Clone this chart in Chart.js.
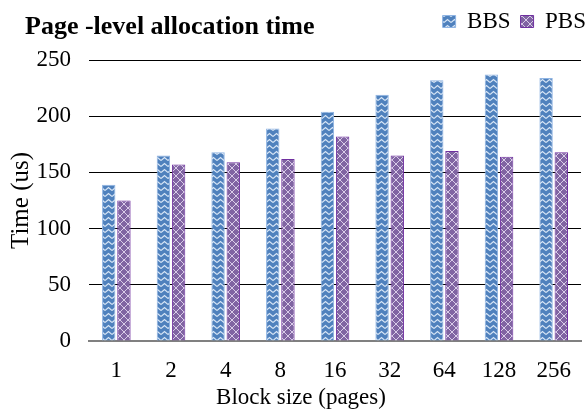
<!DOCTYPE html>
<html lang="en">
<head>
  <meta charset="UTF-8">
  <title>Page-level allocation time</title>
  <style>
    body { margin: 0; background: #fff; }
    #wrap { width: 587px; height: 411px; }
  </style>
</head>
<body>
  <div id="wrap"><canvas id="myChart" width="587" height="411"></canvas></div>

  <script src="https://cdn.jsdelivr.net/npm/chart.js"></script>
  <script>
    // data
    const blockSizes = ['1', '2', '4', '8', '16', '32', '64', '128', '256'];
    const bbsTimes = [139, 165, 168, 189, 204, 219, 232, 237, 234];
    const pbsTimes = [125, 157, 159, 162, 182, 165, 169, 164, 168];
    const yTicks = [0, 50, 100, 150, 200, 250];

    const serif = "'Liberation Serif', 'Times New Roman', serif";

    // chevron fill for BBS
    function chevronPattern() {
      const c = document.createElement('canvas');
      c.width = 7; c.height = 6;
      const g = c.getContext('2d');
      g.fillStyle = '#4f81bd';
      g.fillRect(0, 0, 7, 6);
      g.strokeStyle = '#d6e4f5';
      g.lineWidth = 1.2;
      g.beginPath();
      g.moveTo(0, 4.5); g.lineTo(3.5, 1.5); g.lineTo(7, 4.5);
      g.stroke();
      return g.createPattern(c, 'repeat');
    }

    // diamond cross fill for PBS
    function crossPattern() {
      const c = document.createElement('canvas');
      c.width = 8; c.height = 8;
      const g = c.getContext('2d');
      g.fillStyle = '#8064a2';
      g.fillRect(0, 0, 8, 8);
      g.strokeStyle = '#d9cbe8';
      g.lineWidth = 1;
      g.beginPath();
      g.moveTo(0, 0); g.lineTo(8, 8);
      g.moveTo(8, 0); g.lineTo(0, 8);
      g.stroke();
      return g.createPattern(c, 'repeat');
    }

    // chart title (legend row, left) and x axis title (sits left of centre in the original)
    const extraText = {
      id: 'extraText',
      afterDraw(chart) {
        const ctx = chart.ctx;
        ctx.save();
        ctx.fillStyle = '#000';
        ctx.font = "bold 26px " + serif;
        ctx.textAlign = 'left';
        ctx.textBaseline = 'alphabetic';
        ctx.fillText('Page -level allocation time', 25, 34);
        ctx.font = "23px " + serif;
        ctx.textAlign = 'center';
        ctx.textBaseline = 'middle';
        ctx.fillText('Block size (pages)', 301, 398);
        ctx.restore();
      }
    };

    // legend row sits high, leave a gap under it; nudge it to the right edge
    const legendGap = {
      id: 'legendGap',
      beforeUpdate(chart) {
        const lg = chart.legend;
        if (!lg || lg._patched) return;
        const fit = lg.fit, draw = lg.draw;
        lg.fit = function () { fit.call(this); this.height += 17; };
        lg.draw = function () {
          this.ctx.save();
          this.ctx.translate(10, 0);
          draw.call(this);
          this.ctx.restore();
        };
        lg._patched = true;
      }
    };

    const ctx = document.getElementById('myChart');

    var grafica = new Chart(ctx, {
      type: 'bar',
      data: {
        labels: blockSizes,
        datasets: [{
          label: 'BBS',
          data: bbsTimes,
          backgroundColor: chevronPattern(),
          borderColor: '#8fb4e3',
          borderWidth: 1
        }, {
          label: 'PBS',
          data: pbsTimes,
          backgroundColor: crossPattern(),
          borderColor: '#7030a0',
          borderWidth: 1
        }]
      },
      options: {
        responsive: false,
        animation: false,
        layout: { padding: { left: 0, right: 1, top: 0, bottom: 0 } },
        datasets: {
          bar: { categoryPercentage: 0.556, barPercentage: 0.88 }
        },
        plugins: {
          title: { display: false },
          tooltip: { enabled: false },
          legend: {
            position: 'top',
            align: 'end',
            labels: {
              font: { family: serif, size: 23 },
              color: '#000',
              boxWidth: 13,
              boxHeight: 12,
              padding: 10
            }
          }
        },
        scales: {
          x: {
            afterFit(axis) { axis.height = 70; },
            grid: { display: false, drawTicks: false },
            border: { display: true, color: '#808080', width: 2 },
            ticks: { font: { family: serif, size: 23 }, color: '#000', padding: 16 },
            title: { display: false }
          },
          y: {
            min: 0,
            max: 250,
            afterBuildTicks(axis) { axis.ticks = yTicks.map(v => ({ value: v })); },
            afterFit(axis) { axis.width = 89; },
            grid: { color: '#000', lineWidth: 1, drawTicks: false },
            border: { display: false },
            ticks: { font: { family: serif, size: 23 }, color: '#000', padding: 18 },
            title: {
              display: true,
              text: 'Time (us)',
              font: { family: serif, size: 25 },
              color: '#000',
              padding: { top: 6, bottom: 0 }
            }
          }
        }
      },
      plugins: [extraText, legendGap]
    });
  </script>
</body>
</html>
